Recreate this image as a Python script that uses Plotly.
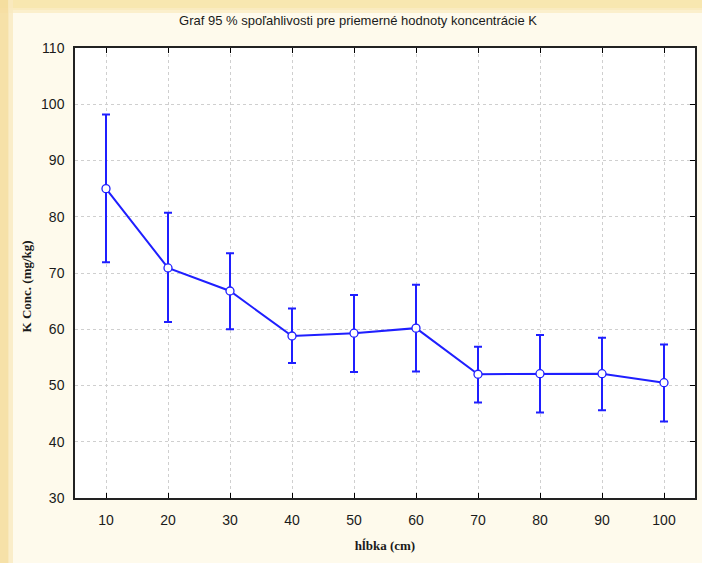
import numpy as np
import plotly.graph_objects as go

# Depth (cm) and mean K concentration with 95 % confidence limits
depth = [10, 20, 30, 40, 50, 60, 70, 80, 90, 100]
k_mean = [85.0, 70.9, 66.8, 58.8, 59.3, 60.2, 52.0, 52.1, 52.1, 50.5]
k_upper = [98.2, 80.7, 73.5, 63.7, 66.1, 67.9, 56.9, 59.0, 58.5, 57.3]
k_lower = [71.9, 61.3, 60.0, 54.0, 52.4, 52.5, 47.0, 45.2, 45.6, 43.6]

x_ticks = [10, 20, 30, 40, 50, 60, 70, 80, 90, 100]
y_ticks = [30, 40, 50, 60, 70, 80, 90, 100, 110]

mean = np.array(k_mean)
err_plus = np.array(k_upper) - mean
err_minus = mean - np.array(k_lower)

blue = "#1f1fff"
cream = "#fefaec"

fig = go.Figure()
fig.add_trace(go.Scatter(
    x=depth, y=k_mean,
    mode="lines+markers",
    line=dict(color=blue, width=2),
    marker=dict(symbol="circle", size=8, color="white",
                line=dict(color=blue, width=1.3)),
    error_y=dict(type="data", symmetric=False,
                 array=err_plus.tolist(), arrayminus=err_minus.tolist(),
                 color=blue, thickness=2, width=4),
    showlegend=False,
))
# invisible trace on the right-hand axis to carry the mirrored ticks
fig.add_trace(go.Scatter(x=[depth[0]], y=[k_mean[0]], yaxis="y2",
                         mode="markers", marker=dict(opacity=0),
                         hoverinfo="skip", showlegend=False))

tick_font = dict(family="Liberation Sans, Arial, sans-serif", size=14, color="#1a1a1a")
axis_title_font = dict(family="Liberation Serif, Times New Roman, serif", size=13,
                       color="#1a1a1a")

fig.update_layout(
    width=702, height=563,
    margin=dict(l=75, r=5, t=48, b=65),
    paper_bgcolor=cream,
    plot_bgcolor="white",
    title=dict(text="Graf 95 % spoľahlivosti pre priemerné hodnoty koncentrácie K",
               font=dict(family="Liberation Sans, Arial, sans-serif", size=13,
                         color="#1a1a1a"),
               xref="container", x=0.51, xanchor="center",
               yref="container", y=0.964, yanchor="middle"),
    xaxis=dict(range=[5, 105], tickvals=x_ticks, ticks="inside", ticklen=5,
               tickcolor="black", tickwidth=1, mirror="ticks",
               showline=True, linecolor="#222222", linewidth=1.5,
               showgrid=True, gridcolor="#cfcfcf", griddash="dot", gridwidth=1,
               zeroline=False, tickfont=tick_font, ticklabelstandoff=8,
               title=dict(text="<b>hĺbka (cm)</b>", font=axis_title_font,
                          standoff=14)),
    yaxis=dict(range=[30, 110], tickvals=y_ticks, ticks="",
               showline=True, linecolor="#222222", linewidth=1.5, mirror=True,
               showgrid=True, gridcolor="#cfcfcf", griddash="dot", gridwidth=1,
               zeroline=False, tickfont=tick_font, ticklabelstandoff=6),
    yaxis2=dict(range=[30, 110], tickvals=y_ticks, overlaying="y", side="right",
                ticks="inside", ticklen=5, tickcolor="black", tickwidth=1,
                showticklabels=False, showgrid=False, zeroline=False,
                showline=False),
    annotations=[dict(text="<b>K Conc. (mg/kg)</b>", textangle=-90,
                      xref="paper", yref="paper", x=-0.0775, y=0.47,
                      xanchor="center", yanchor="middle", showarrow=False,
                      font=axis_title_font)],
    shapes=[
        # decorative gold band along the top edge
        dict(type="rect", xref="paper", yref="paper", layer="below",
             xsizemode="pixel", ysizemode="pixel", xanchor=0, yanchor=1,
             x0=-75, x1=627, y0=48, y1=38, fillcolor="#f7e3a6",
             line=dict(width=0), opacity=0.85),
        dict(type="rect", xref="paper", yref="paper", layer="below",
             xsizemode="pixel", ysizemode="pixel", xanchor=0, yanchor=1,
             x0=-75, x1=627, y0=40, y1=35, fillcolor="#faecc4",
             line=dict(width=0), opacity=0.8),
        # decorative gold band along the left edge
        dict(type="rect", xref="paper", yref="paper", layer="below",
             xsizemode="pixel", ysizemode="pixel", xanchor=0, yanchor=1,
             x0=-75, x1=-66, y0=48, y1=-520, fillcolor="#f4dc9c",
             line=dict(width=0), opacity=0.85),
        dict(type="rect", xref="paper", yref="paper", layer="below",
             xsizemode="pixel", ysizemode="pixel", xanchor=0, yanchor=1,
             x0=-67, x1=-62, y0=48, y1=-520, fillcolor="#f9eac0",
             line=dict(width=0), opacity=0.8),
    ],
)

fig.write_html("out.html")
